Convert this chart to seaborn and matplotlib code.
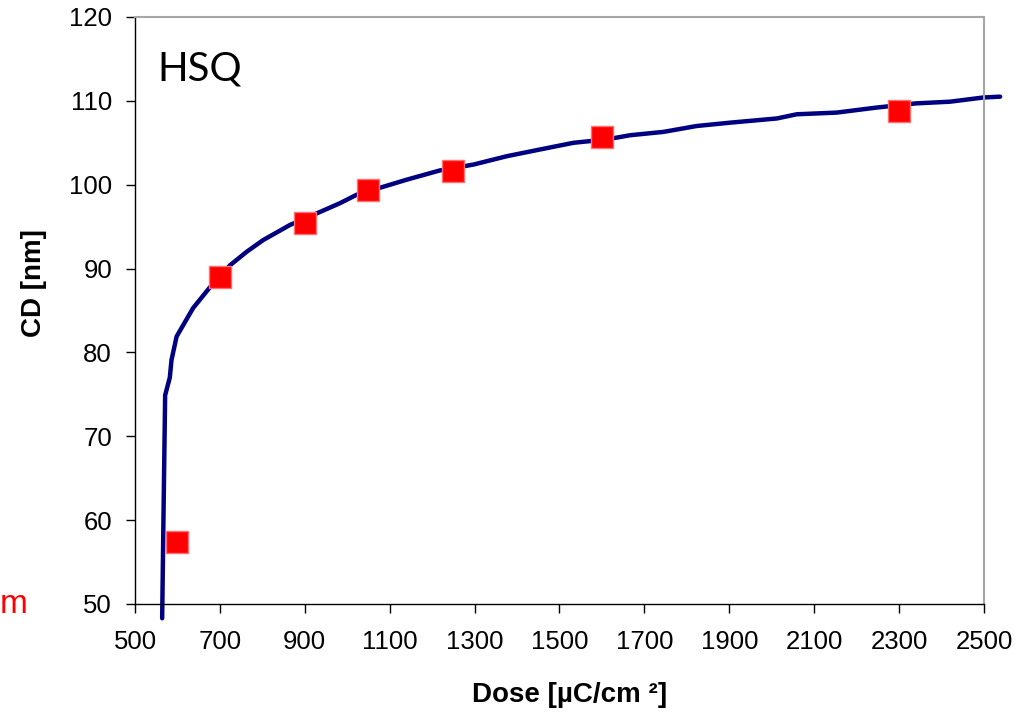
import matplotlib
matplotlib.use('Agg')
import matplotlib.pyplot as plt
import seaborn as sns
import pandas as pd

# Fitted curve
curve_dose = [564, 567, 571, 582, 586, 598, 637, 677, 724, 763, 802, 865, 920, 983,
              1022, 1101, 1140, 1218, 1297, 1376, 1454, 1533, 1611, 1666, 1745, 1823,
              1902, 2012, 2059, 2153, 2247, 2340, 2420, 2498, 2538]
curve_cd = [48.3, 60.0, 74.9, 77.0, 79.1, 81.9, 85.3, 87.8, 90.4, 92.0, 93.4, 95.2, 96.4, 97.8,
            98.8, 100.0, 100.6, 101.7, 102.4, 103.4, 104.2, 105.0, 105.4, 105.9, 106.3, 107.0,
            107.4, 107.9, 108.4, 108.6, 109.2, 109.7, 109.9, 110.4, 110.5]

# Measured points
meas_dose = [600, 700, 900, 1050, 1250, 1600, 2300]
meas_cd = [57.4, 89.0, 95.4, 99.4, 101.6, 105.7, 108.8]

x_ticks = list(range(500, 2501, 200))
y_ticks = list(range(50, 121, 10))

sns.set_style('white')
plt.rcParams['font.family'] = ['Liberation Sans', 'DejaVu Sans']
plt.rcParams['text.color'] = 'black'
plt.rcParams['axes.labelcolor'] = 'black'
plt.rcParams['xtick.color'] = 'black'
plt.rcParams['ytick.color'] = 'black'

fig = plt.figure(figsize=(10.34, 7.12), dpi=100)
L, R, T, B = 135, 984, 17, 604
ax = fig.add_axes([L / 1034, 1 - B / 712, (R - L) / 1034, (B - T) / 712])

line_df = pd.DataFrame({'dose': curve_dose, 'cd': curve_cd})
meas_df = pd.DataFrame({'dose': meas_dose, 'cd': meas_cd})

sns.lineplot(data=line_df, x='dose', y='cd', sort=False, estimator=None,
             color='#000080', linewidth=3.2, ax=ax, zorder=2)
for ln in ax.lines:
    ln.set_clip_on(False)

sns.scatterplot(data=meas_df, x='dose', y='cd', marker='s', s=250, color='#ff0000',
                edgecolor='#ff7070', linewidth=1, ax=ax, zorder=3)

ax.set_xlim(500, 2500)
ax.set_ylim(50, 120)
ax.set_xticks(x_ticks)
ax.set_yticks(y_ticks)
ax.tick_params(axis='both', which='major', direction='out', length=6.5, width=1,
               color='black', labelsize=18.5, labelcolor='black')
ax.tick_params(axis='x', pad=12, bottom=True)
ax.tick_params(axis='y', pad=10, left=True)

for s in ['left', 'bottom']:
    ax.spines[s].set_color('black')
    ax.spines[s].set_linewidth(1)
for s in ['top', 'right']:
    ax.spines[s].set_color('#a6a6a6')
    ax.spines[s].set_linewidth(1.5)

ax.set_xlabel('Dose [µC/cm ²]', fontsize=20, fontweight='bold')
ax.set_ylabel('CD [nm]', fontsize=20, fontweight='bold')
ax.xaxis.set_label_coords((570 - L) / (R - L), -(682 - B) / (B - T))
ax.yaxis.set_label_coords(-(135 - 47) / (R - L), (B - 283) / (B - T))

ax.text((157 - L) / (R - L), (B - 81) / (B - T), 'HSQ', family='Lato', fontsize=29,
        ha='left', va='baseline', transform=ax.transAxes)

fig.text(28 / 1034, 1 - 613 / 712, 'm', color='red', fontsize=24, ha='right', va='baseline')

fig.savefig('out.png', dpi=100)
